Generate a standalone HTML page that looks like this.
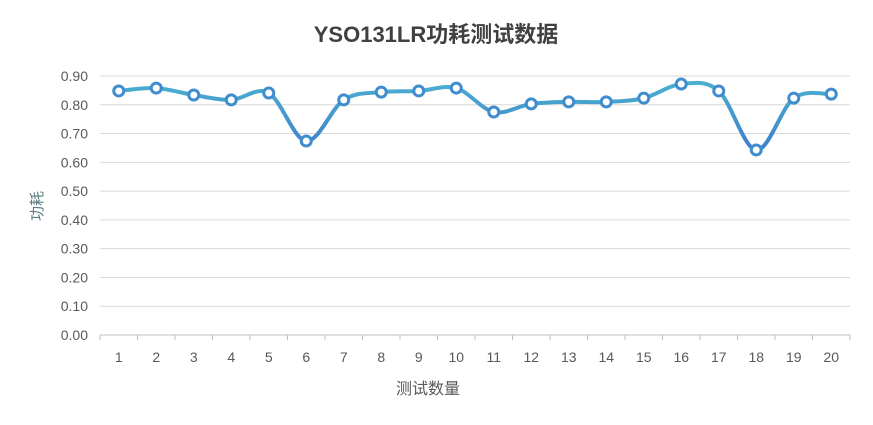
<!DOCTYPE html>
<html><head><meta charset="utf-8"><style>
body{margin:0;background:#fff;}
svg{display:block;font-family:"Liberation Sans","Noto Sans CJK SC",sans-serif;}
</style></head><body>
<svg id="c" width="873" height="425" viewBox="0 0 873 425">
<defs><linearGradient id="g" x1="0" y1="0" x2="0" y2="1"><stop offset="0" stop-color="#4BAFD0"/><stop offset="1" stop-color="#3F7FCB"/></linearGradient></defs>
<text x="436" y="42" text-anchor="middle" font-size="22" font-weight="bold" fill="#404040">YSO131LR功耗测试数据</text>
<g id="grid"></g>
<text transform="translate(42,206) rotate(-90)" text-anchor="middle" font-size="15" fill="#5a7a80">功耗</text>
<text x="428" y="394" text-anchor="middle" font-size="16" fill="#595959">测试数量</text>
<g id="series"></g>
</svg>
<script>
var d=[0.848,0.858,0.834,0.817,0.841,0.674,0.817,0.844,0.848,0.858,0.775,0.803,0.81,0.81,0.823,0.872,0.848,0.643,0.823,0.837];
var y0=335,py=259,L=100,R=850,sp=(R-L)/20;
var ns="http://www.w3.org/2000/svg",G=document.getElementById('grid'),S=document.getElementById('series');
function el(t,a,p,tx){var e=document.createElementNS(ns,t);for(var k in a)e.setAttribute(k,a[k]);if(tx!=null)e.textContent=tx;p.appendChild(e);return e;}
for(var i=0;i<=9;i++){var y=y0-i*py/9;el('line',{x1:L,x2:R,y1:y,y2:y,stroke:i?'#d9d9d9':'#bfbfbf','stroke-width':1},G);
el('text',{x:88,y:y+5,'text-anchor':'end','font-size':14,fill:'#595959'},G,(i/10).toFixed(2));}
for(var i=0;i<=20;i++){var x=L+i*sp;el('line',{x1:x,x2:x,y1:y0,y2:y0+5,stroke:'#bfbfbf'},G);}
for(var i=0;i<20;i++)el('text',{x:L+sp*(i+.5),y:362,'text-anchor':'middle','font-size':14,fill:'#595959'},G,i+1);
var P=d.map(function(v,i){return [L+sp*(i+.5),y0-v*py/0.9];});
var s='M'+P[0][0]+','+P[0][1];
for(var i=0;i<P.length-1;i++){var p0=P[Math.max(0,i-1)],p1=P[i],p2=P[i+1],p3=P[Math.min(P.length-1,i+2)],t=6;
s+=' C'+(p1[0]+(p2[0]-p0[0])/t)+','+(p1[1]+(p2[1]-p0[1])/t)+' '+(p2[0]-(p3[0]-p1[0])/t)+','+(p2[1]-(p3[1]-p1[1])/t)+' '+p2[0]+','+p2[1];}
el('path',{d:s,fill:'none',stroke:'url(#g)','stroke-width':4,'stroke-linecap':'round'},S);
P.forEach(function(p){el('circle',{cx:p[0],cy:p[1],r:5,fill:'#fff',stroke:'#3F8DCF','stroke-width':3},S);});
</script>
</body></html>
